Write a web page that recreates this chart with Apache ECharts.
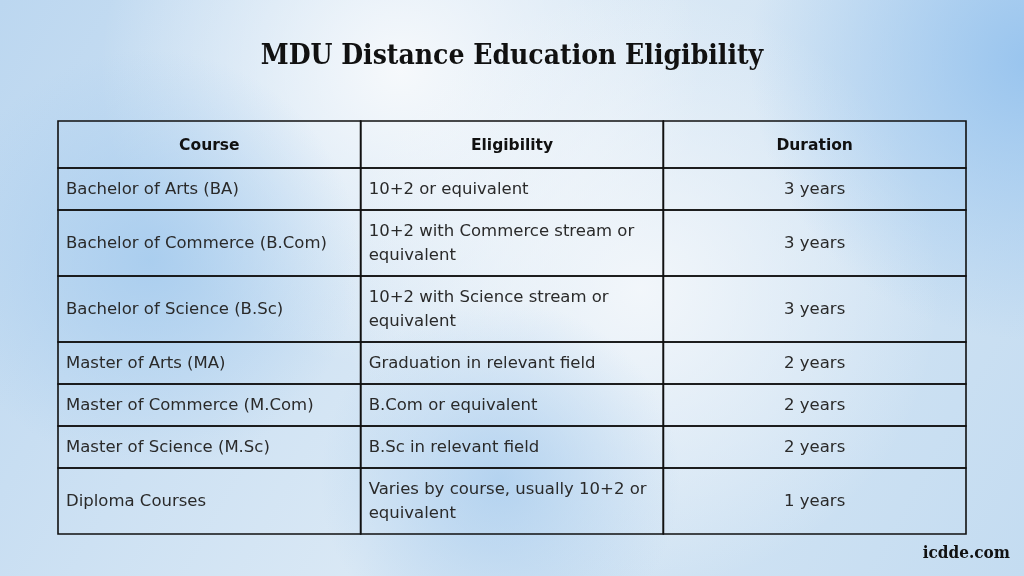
<!DOCTYPE html>
<html><head><meta charset="utf-8">
<script src="https://cdn.jsdelivr.net/npm/echarts@6/dist/echarts.min.js"></script>
<style>html,body{margin:0;padding:0;}#c{width:1024px;height:576px;}</style>
</head><body><div id="c"></div>
<script>
const title = 'MDU Distance Education Eligibility';
const headers = ['Course', 'Eligibility', 'Duration'];
const courses = ['Bachelor of Arts (BA)', 'Bachelor of Commerce (B.Com)', 'Bachelor of Science (B.Sc)', 'Master of Arts (MA)', 'Master of Commerce (M.Com)', 'Master of Science (M.Sc)', 'Diploma Courses'];
const eligibility = ['10+2 or equivalent', '10+2 with Commerce stream or\nequivalent', '10+2 with Science stream or\nequivalent', 'Graduation in relevant field', 'B.Com or equivalent', 'B.Sc in relevant field', 'Varies by course, usually 10+2 or\nequivalent'];
const durations = ['3 years', '3 years', '3 years', '2 years', '2 years', '2 years', '1 years'];
const watermark = 'icdde.com';

// layout
const HEADER_H = 47, ONE_LINE_H = 42, TWO_LINE_H = 66;
const rows = [headers].concat(courses.map((c, i) => [c, eligibility[i], durations[i]]));
const rowH = rows.map((r, i) => i === 0 ? HEADER_H : (r.some(t => t.indexOf('\n') >= 0) ? TWO_LINE_H : ONE_LINE_H));
const rowTop = [0];
rowH.forEach(h => rowTop.push(rowTop[rowTop.length - 1] + h));
const totalH = rowTop[rowTop.length - 1];

const data = [];
rows.forEach((r, ri) => r.forEach((t, ci) => data.push([ci, ri])));

const BODY_FONT = '"DejaVu Sans", sans-serif';
const TITLE_FONT = '"DejaVu Serif Condensed", "DejaVu Serif", serif';

function renderItem(params, api) {
  const c = api.value(0), r = api.value(1);
  const p0 = api.coord([c, rowTop[r]]);
  const p1 = api.coord([c + 1, rowTop[r + 1]]);
  const x = p0[0], y = p0[1], w = p1[0] - p0[0], h = p1[1] - p0[1];
  const txt = rows[r][c];
  const isHead = r === 0;
  const center = isHead || c === 2;
  return {
    type: 'group',
    children: [
      { type: 'rect', shape: { x: x, y: y, width: w, height: h },
        style: { fill: 'rgba(255,255,255,0)', stroke: '#111', lineWidth: 1.6 } },
      { type: 'text',
        style: { text: txt, x: center ? x + w / 2 : x + 8, y: y + h / 2 + 1,
          align: center ? 'center' : 'left', verticalAlign: 'middle',
          font: isHead ? 'bold 15.5px ' + BODY_FONT : '16.5px ' + BODY_FONT, lineHeight: 24,
          fill: isHead ? '#111' : '#2a2a2a' } }
    ]
  };
}

const chart = echarts.init(document.getElementById('c'), null, { renderer: 'canvas' });
chart.setOption({
  animation: false,
  graphic: [
    { type: 'rect', z: -10, shape: { x: 0, y: 0, width: 1024, height: 576 },
      style: { fill: new echarts.graphic.LinearGradient(0, 0, 1, 1, [
        { offset: 0, color: '#bcd7f0' }, { offset: 0.5, color: '#d9e8f5' }, { offset: 1, color: '#c4dcf1' }]) } },
    { type: 'circle', z: -9, shape: { cx: 400, cy: 70, r: 300 },
      style: { fill: new echarts.graphic.RadialGradient(0.5, 0.5, 0.5, [
        { offset: 0, color: 'rgba(248,250,252,0.95)' }, { offset: 1, color: 'rgba(248,250,252,0)' }]) } },
    { type: 'circle', z: -9, shape: { cx: 640, cy: 290, r: 300 },
      style: { fill: new echarts.graphic.RadialGradient(0.5, 0.5, 0.5, [
        { offset: 0, color: 'rgba(245,248,251,0.9)' }, { offset: 1, color: 'rgba(245,248,251,0)' }]) } },
    { type: 'circle', z: -9, shape: { cx: 1030, cy: 60, r: 280 },
      style: { fill: new echarts.graphic.RadialGradient(0.5, 0.5, 0.5, [
        { offset: 0, color: 'rgba(150,195,238,0.95)' }, { offset: 1, color: 'rgba(150,195,238,0)' }]) } },
    { type: 'circle', z: -9, shape: { cx: 150, cy: 260, r: 210 },
      style: { fill: new echarts.graphic.RadialGradient(0.5, 0.5, 0.5, [
        { offset: 0, color: 'rgba(165,203,238,0.85)' }, { offset: 1, color: 'rgba(165,203,238,0)' }]) } },
    { type: 'circle', z: -9, shape: { cx: 500, cy: 480, r: 180 },
      style: { fill: new echarts.graphic.RadialGradient(0.5, 0.5, 0.5, [
        { offset: 0, color: 'rgba(170,205,238,0.8)' }, { offset: 1, color: 'rgba(170,205,238,0)' }]) } },
    { type: 'text', left: 'center', top: 43, z: 10,
      style: { text: title, font: 'bold 28px ' + TITLE_FONT, fill: '#111' } },
    { type: 'text', right: 14, top: 545, z: 10,
      style: { text: watermark, font: 'bold 17px ' + TITLE_FONT, fill: '#111' } }
  ],
  grid: { left: 58, right: 58, top: 121, bottom: 576 - 121 - totalH },
  xAxis: { type: 'value', min: 0, max: headers.length, show: false },
  yAxis: { type: 'value', min: 0, max: totalH, inverse: true, show: false },
  series: [{ type: 'custom', renderItem: renderItem, data: data, clip: false }]
});
</script></body></html>
